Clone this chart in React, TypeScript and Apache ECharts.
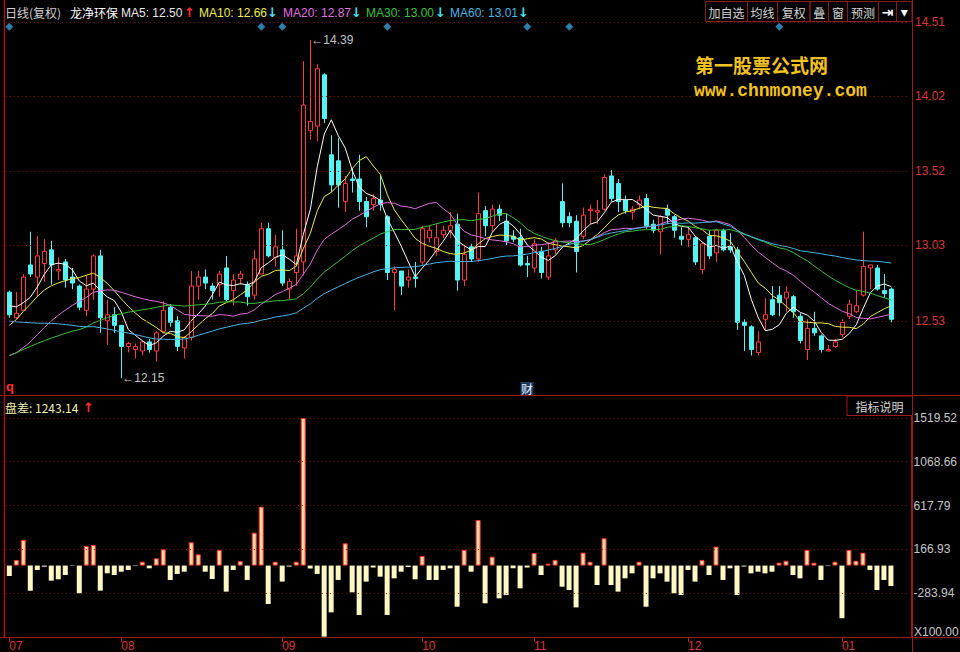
import React, { useEffect, useRef } from 'react';
import * as echarts from 'echarts';

// ---------- data ----------
const opens = [
  12.72, 12.55, 12.60, 12.90, 12.82, 12.91, 13.00, 12.86, 12.92, 12.82,
  12.76, 12.60, 12.74, 12.96, 12.53, 12.57, 12.50, 12.36, 12.34, 12.33,
  12.39, 12.33, 12.46, 12.62, 12.53, 12.35, 12.42, 12.76, 12.82, 12.76,
  12.77, 12.88, 12.73, 12.81, 12.77, 12.70, 12.84, 13.14, 12.95, 13.00,
  12.74, 12.85, 12.92, 13.79, 13.82, 14.16, 13.63, 13.59, 13.32, 13.47,
  13.47, 13.32, 13.30, 13.33, 13.22, 12.85, 12.86, 12.80, 12.82, 12.92,
  13.08, 12.99, 13.10, 13.13, 13.17, 12.80, 13.02, 12.94, 13.26, 13.16,
  13.27, 13.19, 13.09, 13.08, 12.91, 12.88, 12.99, 12.82, 13.00, 13.32,
  13.22, 13.19, 13.09, 13.26, 13.25, 13.27, 13.49, 13.44, 13.33, 13.25,
  13.30, 13.34, 13.17, 13.12, 13.27, 13.22, 13.09, 13.07, 13.08, 12.87,
  13.09, 12.98, 13.13, 13.02, 13.00, 12.52, 12.49, 12.32, 12.54, 12.67,
  12.70, 12.68, 12.69, 12.56, 12.34, 12.48, 12.43, 12.33, 12.36, 12.44,
  12.56, 12.59, 12.70, 12.88, 12.88, 12.73, 12.74,
];
const closes = [
  12.57, 12.58, 12.82, 12.84, 12.96, 12.99, 12.90, 12.87, 12.80, 12.78,
  12.62, 12.74, 12.96, 12.55, 12.57, 12.50, 12.36, 12.38, 12.36, 12.39,
  12.34, 12.45, 12.60, 12.52, 12.36, 12.42, 12.76, 12.82, 12.78, 12.73,
  12.84, 12.67, 12.80, 12.84, 12.69, 12.94, 13.14, 12.96, 13.02, 12.78,
  12.79, 12.96, 13.96, 13.85, 14.20, 13.87, 13.43, 13.43, 13.44, 13.46,
  13.32, 13.22, 13.34, 13.30, 12.85, 12.87, 12.76, 12.82, 12.81, 13.14,
  13.13, 13.08, 13.13, 13.16, 12.80, 12.97, 12.94, 13.24, 13.16, 13.27,
  13.23, 13.06, 13.07, 12.90, 12.90, 13.04, 12.85, 12.96, 13.06, 13.18,
  13.18, 12.99, 13.23, 13.27, 13.26, 13.48, 13.34, 13.32, 13.26, 13.27,
  13.33, 13.16, 13.13, 13.22, 13.23, 13.13, 13.07, 13.10, 12.92, 13.04,
  12.96, 13.13, 13.00, 13.00, 12.52, 12.50, 12.34, 12.39, 12.57, 12.57,
  12.65, 12.72, 12.59, 12.40, 12.48, 12.45, 12.34, 12.34, 12.39, 12.52,
  12.64, 12.63, 12.89, 12.90, 12.74, 12.71, 12.54,
];
const lows = [
  12.55, 12.54, 12.60, 12.82, 12.69, 12.79, 12.77, 12.80, 12.75, 12.74,
  12.60, 12.56, 12.67, 12.45, 12.37, 12.45, 12.15, 12.32, 12.28, 12.30,
  12.32, 12.26, 12.45, 12.49, 12.33, 12.28, 12.40, 12.67, 12.74, 12.67,
  12.69, 12.66, 12.63, 12.77, 12.63, 12.67, 12.84, 12.95, 12.89, 12.76,
  12.67, 12.76, 12.83, 13.73, 13.72, 13.84, 13.38, 13.28, 13.25, 13.38,
  13.26, 13.15, 13.26, 13.26, 12.80, 12.60, 12.70, 12.75, 12.75, 12.90,
  13.05, 12.96, 13.08, 13.08, 12.73, 12.76, 12.92, 12.92, 13.09, 13.12,
  13.19, 13.03, 13.05, 12.89, 12.82, 12.85, 12.81, 12.80, 12.97, 13.15,
  13.15, 12.85, 13.07, 13.17, 13.17, 13.26, 13.32, 13.25, 13.24, 13.20,
  13.27, 13.14, 13.11, 12.97, 13.17, 13.08, 13.03, 13.02, 12.90, 12.84,
  12.94, 12.92, 12.99, 12.98, 12.47, 12.33, 12.30, 12.30, 12.47, 12.56,
  12.56, 12.59, 12.55, 12.38, 12.27, 12.43, 12.32, 12.33, 12.35, 12.42,
  12.54, 12.58, 12.69, 12.74, 12.73, 12.68, 12.52,
];
const highs = [
  12.73, 12.72, 12.84, 13.12, 13.09, 13.07, 13.06, 12.95, 12.94, 12.88,
  12.77, 12.83, 12.97, 13.00, 12.67, 12.62, 12.50, 12.39, 12.38, 12.40,
  12.41, 12.46, 12.66, 12.64, 12.56, 12.43, 12.86, 12.86, 12.87, 12.78,
  12.86, 12.96, 12.84, 12.86, 12.79, 13.00, 13.18, 13.18, 13.10, 13.13,
  12.81, 13.14, 14.25, 14.39, 14.23, 14.17, 13.76, 13.74, 13.49, 13.54,
  13.63, 13.35, 13.37, 13.49, 13.23, 12.89, 12.86, 12.87, 12.92, 13.16,
  13.16, 13.17, 13.16, 13.25, 13.24, 13.03, 13.04, 13.38, 13.29, 13.30,
  13.30, 13.24, 13.13, 13.14, 12.96, 13.07, 13.02, 13.05, 13.08, 13.44,
  13.25, 13.23, 13.28, 13.30, 13.33, 13.50, 13.53, 13.47, 13.36, 13.29,
  13.36, 13.37, 13.20, 13.23, 13.30, 13.23, 13.15, 13.15, 13.09, 13.05,
  13.13, 13.14, 13.14, 13.11, 13.02, 12.54, 12.50, 12.46, 12.68, 12.76,
  12.76, 12.76, 12.70, 12.58, 12.54, 12.59, 12.44, 12.37, 12.41, 12.54,
  12.67, 12.73, 13.12, 12.90, 12.90, 12.84, 12.75,
];
// closes before the first visible day (only feed the moving averages)
const priorCloses = [
  12.92, 12.98, 13.05, 13.10, 13.02, 12.96, 13.04, 13.12, 13.08, 13.00,
  12.94, 12.90, 12.98, 13.06, 13.02, 12.95, 12.88, 12.96, 13.04, 12.99, 12.92,
  12.70, 12.55, 12.40, 12.25, 12.10, 12.00, 11.95, 11.95, 11.90,
  12.05, 12.15, 12.25, 12.35, 12.45, 12.40, 12.38, 12.32, 12.35, 12.30,
  12.22, 12.15, 12.08, 12.02, 12.00, 12.05, 12.10, 12.12, 12.14, 12.12,
  12.20, 12.28, 12.36, 12.45, 12.56,
  12.62, 12.68, 12.66, 12.62,
];
// 盘差 indicator (x100)
const diffValues = [
  -107, 58, 263, -258, -45, -11, -155, -141, -97, -4,
  -285, 202, 212, -258, -79, -97, -63, -45, -5, 40,
  -28, 75, 168, -148, -86, -63, 240, 116, -63, -138,
  161, -268, -45, 47, -148, 339, 606, -395, 40, -165,
  -10, 40, 1519.52, -30, -86, -731, -481, -148, 229, -275,
  -508, -165, -20, -114, -508, -131, -63, -15, -141, 99,
  -148, -148, -45, -28, -423, 161, -63, 469, -388, 92,
  -337, -303, -28, -234, -20, 130, -97, 20, 58, -217,
  -251, -430, 133, 40, -200, 281, -200, -268, -131, -80,
  40, -423, -131, -80, -165, -285, -303, -45, -165, 58,
  -97, 195, -148, -28, -303, -10, -80, -63, -80, -63,
  30, 50, -97, -131, 161, 30, -148, -5, 40, -542,
  161, 50, 133, -45, -251, -148, -210,
];
const monthLabels = ['07', '08', '09', '10', '11', '12', '01'];
const monthStartIdx = [0, 16, 39, 59, 75, 97, 119];
const priceTicks = [14.51, 14.02, 13.52, 13.03, 12.53];
const diffTicks = [1519.52, 1068.66, 617.79, 166.93, -283.94];
const eventIdx = [0, 36, 39, 54, 74, 80, 110];
const maPeriods = [5, 10, 20, 30, 60];
const maColors = ['#ffffff', '#eeee50', '#e070e0', '#3cc03c', '#4cb4e4'];
const headerMA = [12.50, 12.66, 12.87, 13.00, 13.01];
const headerArrowUp = [true, false, false, false, false];

// ---------- derived ----------
const SLOTS = 129;
const categories = Array.from({ length: SLOTS }, (_, i) => 'd' + i);
const allCloses = priorCloses.concat(closes);
const maSeries = maPeriods.map((n) =>
  closes.map((_, i) => {
    const end = priorCloses.length + i;
    let s = 0;
    for (let k = end - n + 1; k <= end; k++) s += allCloses[k];
    return +(s / n).toFixed(3);
  })
);
const kData = opens.map((o, i) => [o, closes[i], lows[i], highs[i]]);
let idxMax = 0, idxMin = 0;
highs.forEach((h, i) => { if (h > highs[idxMax]) idxMax = i; });
lows.forEach((l, i) => { if (l < lows[idxMin]) idxMin = i; });

const FONT = '"Liberation Sans", "Noto Sans CJK SC", sans-serif';
const CJK = '"Noto Sans CJK SC", "Liberation Sans", sans-serif';
const FRAME = '#a01818';
const GRIDDOT = '#8a1414';
const isMonthStart = (i: number) => monthStartIdx.indexOf(i) >= 0;

function txt(text: string, x: number, y: number, fill: string, size = 12, extra: any = {}) {
  return {
    type: 'text', x, y, silent: true, z: 10,
    style: { text, fill, fontSize: size, fontFamily: FONT, textVerticalAlign: 'middle', textAlign: 'left', ...extra },
  };
}
function hline(x1: number, x2: number, y: number, color = FRAME, w = 1) {
  return { type: 'line', silent: true, z: 5, shape: { x1, y1: y, x2, y2: y }, style: { stroke: color, lineWidth: w } };
}
function vline(x: number, y1: number, y2: number, color = FRAME, w = 1) {
  return { type: 'line', silent: true, z: 5, shape: { x1: x, y1, x2: x, y2 }, style: { stroke: color, lineWidth: w } };
}

function buildGraphic() {
  const g: any[] = [];
  // frame
  g.push(vline(4.5, 0, 637.5, FRAME, 1.5));
  g.push(vline(912.5, 0, 652));
  g.push(hline(0, 960, 395.5));
  g.push(hline(0, 960, 637.5));
  // header
  g.push(txt('日线(复权)', 5, 12.5, '#d0d0d0', 12, { fontFamily: CJK }));
  g.push(txt('龙净环保', 70, 12.5, '#ffffff', 12, { fontFamily: CJK }));
  const maX = [121, 199, 283, 366, 450];
  const arX = [184, 267, 351, 435, 518];
  maPeriods.forEach((p, k) => {
    g.push(txt('MA' + p + ': ' + headerMA[k].toFixed(2), maX[k], 12.5, k === 0 ? '#e8e8e8' : maColors[k], 12));
    g.push(txt(headerArrowUp[k] ? '↑' : '↓', arX[k], 12.5, headerArrowUp[k] ? '#ff3030' : '#48e0f0', 13,
      { fontWeight: 'bold', fontFamily: '"DejaVu Sans", sans-serif' }));
  });
  // buttons
  const btnEdges = [705.5, 747.5, 777.5, 810, 828.5, 847.5, 878.5, 896.5, 912];
  const btnText = ['加自选', '均线', '复权', '叠', '窗', '预测', '⇥', '▾'];
  for (let k = 0; k < btnText.length; k++) {
    const x1 = btnEdges[k], x2 = btnEdges[k + 1];
    g.push({ type: 'rect', silent: true, z: 5, shape: { x: x1, y: 1.5, width: x2 - x1, height: 20 },
      style: { fill: 'none', stroke: '#8c1c1c', lineWidth: 1 } });
    g.push(txt(btnText[k], (x1 + x2) / 2, 12, k >= 6 ? '#ffffff' : '#d6d6d6', k >= 6 ? 14 : 12,
      { textAlign: 'center', fontFamily: k >= 6 ? '"DejaVu Sans", sans-serif' : CJK, fontWeight: k >= 6 ? 'bold' : 'normal' }));
  }
  // watermark
  g.push(txt('第一股票公式网', 695, 64, '#f2c21e', 19, { fontFamily: CJK, fontWeight: 'bold' }));
  g.push(txt('www.chnmoney.com', 694, 91, '#f2c21e', 18, { fontFamily: '"Liberation Mono", monospace', fontWeight: 'bold' }));
  // panel markers
  g.push(txt('q', 6, 386, '#ff3030', 13, { fontWeight: 'bold' }));
  g.push({ type: 'rect', silent: true, z: 9, shape: { x: 520.5, y: 382, width: 13, height: 13 }, style: { fill: '#1c3a5c' } });
  g.push(txt('财', 521, 388.5, '#e8f0ff', 12, { fontFamily: CJK }));
  // lower panel header
  g.push(txt('盘差: 1243.14', 5, 407.5, '#eeeeb4', 12, { fontFamily: CJK }));
  g.push(txt('↑', 83, 407.5, '#ff3030', 13, { fontWeight: 'bold', fontFamily: '"DejaVu Sans", sans-serif' }));
  g.push({ type: 'rect', silent: true, z: 5, shape: { x: 847, y: 396, width: 65.5, height: 19.5 },
    style: { fill: '#000', stroke: FRAME, lineWidth: 1 } });
  g.push(txt('指标说明', 879.5, 406, '#d6d6d6', 12, { fontFamily: CJK, textAlign: 'center' }));
  g.push(txt('X100.00', 914, 632, '#c8c8c8', 12));
  return g;
}

function buildOption() {
  const grid0 = { left: 5.8, top: 22, width: 903, height: 373.5 };
  const grid1 = { left: 5.8, top: 396, width: 903, height: 241.5 };
  const series: any[] = [];
  series.push({
    type: 'candlestick', name: 'K', xAxisIndex: 0, yAxisIndex: 0, data: kData, barWidth: 5,
    itemStyle: { color: '#000000', color0: '#54f4f4', borderColor: '#ff3c3c', borderColor0: '#54f4f4', borderWidth: 1 },
    markLine: {
      silent: true, symbol: ['none', 'none'], label: { show: false }, animation: false,
      lineStyle: { type: [1, 3], color: GRIDDOT, width: 1 },
      data: priceTicks.map((v) => ({ yAxis: v })),
    },
    markPoint: {
      symbol: 'circle', symbolSize: 0, animation: false,
      label: { show: true, position: 'right', distance: 1, color: '#c4c4c4', fontSize: 12, fontFamily: FONT,
        formatter: (p: any) => '←' + Number(p.value).toFixed(2) },
      data: [
        { coord: [idxMax, highs[idxMax]], value: highs[idxMax] },
        { coord: [idxMin, lows[idxMin]], value: lows[idxMin] },
      ],
    },
    z: 3,
  });
  maSeries.forEach((d, k) => {
    series.push({
      type: 'line', name: 'MA' + maPeriods[k], xAxisIndex: 0, yAxisIndex: 0, data: d,
      showSymbol: false, symbol: 'none', lineStyle: { color: maColors[k], width: 1 }, z: 4, silent: true,
    });
  });
  series.push({
    type: 'scatter', xAxisIndex: 0, yAxisIndex: 2, symbol: 'diamond', symbolSize: 8,
    itemStyle: { color: '#3c9ed4' }, data: eventIdx.map((i) => [i, 0.987]), silent: true,
  });
  series.push({
    type: 'bar', xAxisIndex: 1, yAxisIndex: 1, barWidth: 5,
    data: diffValues.map((v) => ({
      value: v,
      itemStyle: v >= 0 ? { color: '#f2dca4', borderColor: '#ff3232', borderWidth: 1 } : { color: '#fff8c4' },
    })),
    markLine: {
      silent: true, symbol: ['none', 'none'], label: { show: false }, animation: false,
      lineStyle: { type: [1, 3], color: GRIDDOT, width: 1 },
      data: diffTicks.map((v) => ({ yAxis: v })),
    },
    z: 3,
  });

  return {
    animation: false,
    backgroundColor: '#000000',
    textStyle: { fontFamily: FONT },
    grid: [grid0, grid1],
    xAxis: [
      { type: 'category', gridIndex: 0, data: categories, boundaryGap: true, show: false },
      {
        type: 'category', gridIndex: 1, data: categories, boundaryGap: true,
        axisLine: { show: true, onZero: false, lineStyle: { color: FRAME } },
        axisTick: { show: true, alignWithLabel: true, interval: (i: number) => isMonthStart(i), length: 5, lineStyle: { color: '#c02020' } },
        axisLabel: {
          interval: (i: number) => isMonthStart(i), align: 'left', margin: 3, color: '#d83838', fontSize: 12,
          formatter: (_v: string, i: number) => { const k = monthStartIdx.indexOf(i); return k >= 0 ? monthLabels[k] : ''; },
        },
        splitLine: { show: false },
      },
    ],
    yAxis: [
      {
        type: 'value', gridIndex: 0, position: 'right', offset: 3.2, min: 12.035, max: 14.51, scale: true,
        axisLine: { show: true, lineStyle: { color: FRAME } }, axisTick: { show: false }, splitLine: { show: false },
        axisLabel: { customValues: priceTicks, formatter: (v: number) => v.toFixed(2), color: '#d83838', fontSize: 12, margin: 3 },
      },
      {
        type: 'value', gridIndex: 1, position: 'right', offset: 3.2, min: -734.8, max: 1745,
        axisLine: { show: true, lineStyle: { color: FRAME } }, axisTick: { show: false }, splitLine: { show: false },
        axisLabel: { customValues: diffTicks, formatter: (v: number) => v.toFixed(2), color: '#c8c8c8', fontSize: 12, margin: 2 },
      },
      { type: 'value', gridIndex: 0, min: 0, max: 1, show: false },
    ],
    series,
    graphic: buildGraphic(),
  };
}

export default function App() {
  const ref = useRef<HTMLDivElement>(null);
  useEffect(() => {
    if (!ref.current) return;
    const chart = echarts.init(ref.current, null, { renderer: 'svg' });
    chart.setOption(buildOption() as any);
    return () => chart.dispose();
  }, []);
  return (
    <div
      ref={ref}
      style={{ position: 'fixed', left: 0, top: 0, width: 960, height: 652, background: '#000' }}
    />
  );
}
